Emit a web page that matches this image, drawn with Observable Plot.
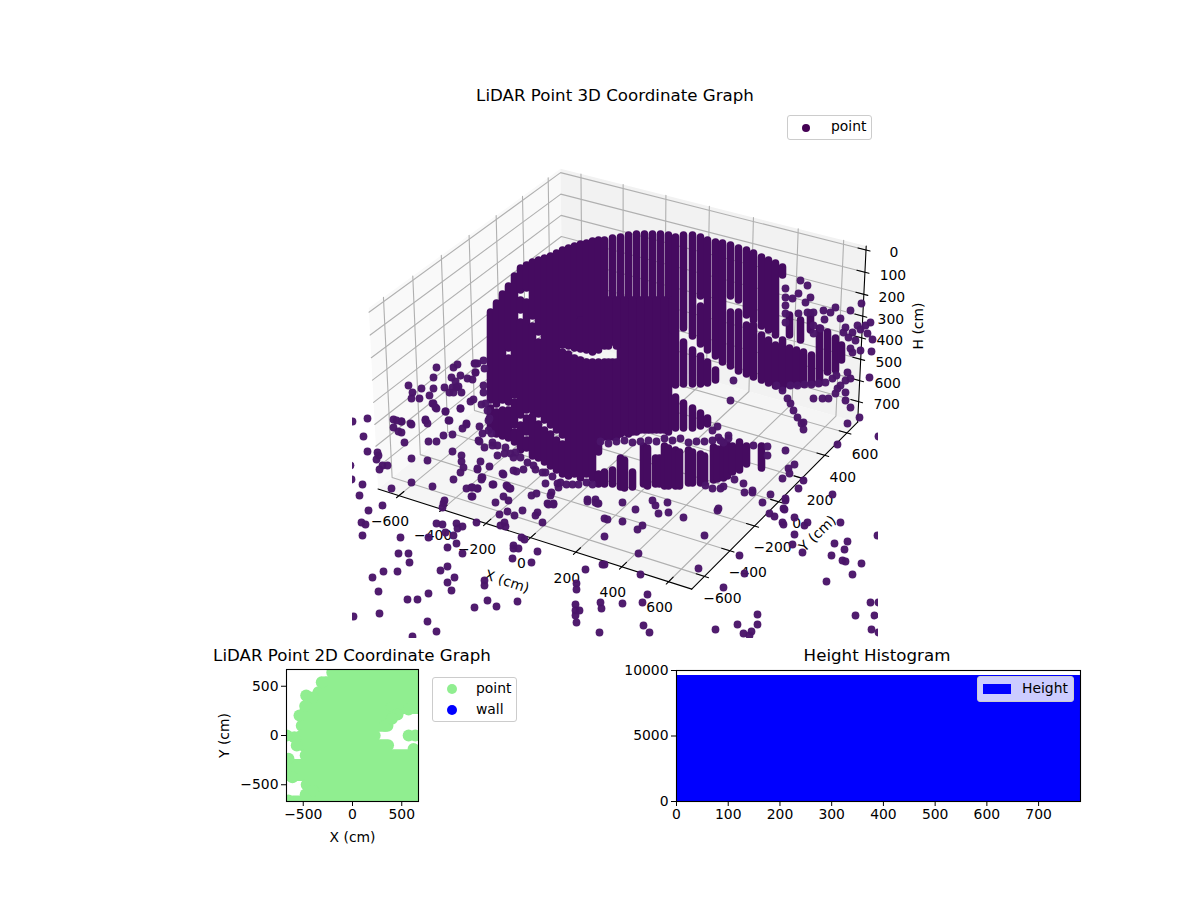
<!DOCTYPE html>
<html><head><meta charset="utf-8">
<script src="https://cdn.jsdelivr.net/npm/d3@7"></script>
<script src="https://cdn.jsdelivr.net/npm/@observablehq/plot@0.6"></script>
<style>
body{margin:0;background:#fff;font-family:"DejaVu Sans",sans-serif;color:#000}
#root{position:relative;width:1200px;height:900px;overflow:hidden}
#root>svg,#root>div{position:absolute}
.ttl{font-size:16.67px;transform:translateX(-50%);white-space:nowrap;line-height:1}
.leg{background:rgba(255,255,255,.8);border:1px solid #ccc;border-radius:3px;box-sizing:border-box;font-size:13.9px}
.leg span{position:absolute;line-height:1}
.leg i{position:absolute;display:block}
</style></head><body><div id="root"></div>
<script>
// ---- 3D axes
const xTicks3=[-600,-400,-200,0,200,400,600];
const yTicks3=[-600,-400,-200,0,200,400,600];
const hTicks3=[0,100,200,300,400,500,600,700];
const paneLimit=698, hTopLimit=-18, hBottomLimit=798;
// ---- dense LiDAR scan stacks: [u, top, bottom]
const scanColumns=[
[490,312,400],[490,408,428],[496,303,404],[496,412,434],[502,294,400],[502,410,436],[508,286,348],[508,358,402],[508,410,438],[514,276,395],[514,402,425],[514,432,442],
[520,268,290],[520,300,310],[520,322,415],[520,425,450],[526,265,288],[526,302,410],[526,418,432],[526,440,448],[532,262,316],[532,326,410],[532,416,456],
[538,260,332],[538,342,414],[538,424,458],[544,258,420],[544,430,462],[550,256,425],[550,434,466],[556,253,430],[556,440,470],
[562,250,345],[562,352,435],[562,444,474],[568,248,346],[568,354,476],[574,246,348],[574,358,474],[580,244,315],[580,320,349],[580,360,478],
[586,243,350],[586,362,474],[592,241,352],[592,362,478],[598,240,350],[598,362,452],[598,474,484],
[604,240,346],[604,362,437],[604,472,484],[612,238,342],[612,362,437],[612,470,484],[620,237,434],[620,458,487],[624,460,488],[628,235,434],[632,472,487],
[636,234,432],[644,234,430],[643,446,484],[647,448,486],[652,234,430],[655,458,484],[659,458,484],[660,234,430],[664,446,486],[668,448,486],[668,235,432],
[608,300,346],[608,362,437],[616,300,346],[616,362,437],[624,300,432],[632,300,432],[640,300,430],[648,300,430],[656,300,430],[664,300,430],[672,300,330],
[675,237,385],[675,397,428],[675,450,486],[679,452,486],[683,235,328],[683,342,384],[683,403,428],[688,450,483],[692,452,483],[692,235,336],[692,350,384],[692,408,428],
[700,237,296],[700,306,344],[700,356,384],[700,413,426],[700,454,483],[704,456,482],[707,240,350],[707,362,383],[707,418,424],[713,447,480],[717,449,479],[715,242,356],[715,370,380],
[722,243,362],[723,443,478],[727,445,476],[730,245,296],[730,312,366],[732,446,472],[738,248,300],[738,312,371],[739,442,470],[746,250,315],[746,325,374],[746,446,464],
[753,253,320],[753,325,377],[761,257,326],[761,335,380],[761,446,468],[768,260,330],[768,340,383],[775,263,335],[775,345,386],
[782,267,275],[782,340,388],[789,315,335],[789,348,385],[796,350,384],[800,320,340],[803,352,384],[810,313,330],[811,355,383],[819,328,383],[827,332,372],[835,338,370],[841,345,360]
];
// ---- single scattered returns
const scatterPoints=[
[436,367],[433,377],[408,385],[412,392],[411,398],[421,388],[419,398],[429,395],[433,388],[433,403],[436,408],[445,411],[444,387],[449,392],[453,392],[452,387],[456,387],
[451,377],[455,381],[460,375],[467,378],[472,379],[458,386],[461,392],[453,367],[457,364],[474,363],[477,363],[475,372],[484,368],[470,401],[473,399],[460,408],[481,404],[485,403],[487,410],
[448,420],[401,421],[396,420],[410,423],[425,419],[427,423],[466,423],[489,418],[479,426],[483,385],[483,392],
[352,421],[367,418],[363,436],[367,451],[377,452],[378,455],[376,459],[382,465],[379,469],[387,465],[350,465],[351,479],[362,484],[359,495],[368,510],[382,505],[361,522],[365,524],[362,535],
[391,488],[411,482],[432,486],[411,458],[427,460],[393,419],[393,427],[401,421],[411,424],[398,431],[401,432],[404,442],[425,420],[428,441],[436,441],[443,435],[452,434],[449,420],[445,411],[432,403],[435,407],
[462,428],[466,424],[460,408],[452,451],[461,455],[461,461],[480,461],[463,467],[460,472],[477,469],[489,466],[453,479],[481,477],[481,479],[493,484],[466,488],[471,487],[477,488],[471,496],[444,500],[443,503],[442,507],
[503,496],[508,500],[495,502],[507,486],[510,488],[499,514],[507,511],[514,515],[522,510],[531,495],[536,493],[537,512],[535,515],[476,522],[504,522],[500,525],[505,526],[542,522],[436,523],[442,524],[456,523],[462,526],[457,528],
[445,532],[453,535],[428,537],[400,537],[447,547],[456,543],[462,553],[398,553],[408,553],[409,562],[440,570],[447,566],[454,577],[447,582],[451,590],[383,571],[397,571],[372,577],[378,591],[407,599],[417,599],[428,593],[379,613],[353,616],[427,621],[436,631],[412,636],
[474,607],[487,600],[496,606],[517,601],[484,580],[484,585],[513,545],[513,548],[518,548],[512,558],[531,562],[537,551],[521,537],[524,539],
[488,420],[488,430],[482,433],[479,441],[484,447],[497,455],[492,442],[491,433],[478,440],[492,445],[503,474],[513,470],[516,471],[523,469],[535,469],[542,472],[545,483],[504,453],[510,453],[513,457],[520,457],[477,468],[502,473],[482,477],[492,484],[506,485],[509,488],[557,483],[558,487],[477,488],[472,487],[472,496],
[497,445],[505,447],[515,452],[527,462],[533,465],[545,472],[552,476],[560,482],[566,484],[572,484],[578,484],[586,482],[592,484],
[551,492],[550,495],[547,503],[553,503],[587,499],[595,499],[597,503],[622,502],[635,509],[652,500],[655,505],[667,502],[658,513],[668,512],[604,518],[607,519],[622,521],[637,529],[642,525],[604,536],[704,535],[638,553],[739,555],[698,568],[602,564],[604,564],[585,569],[640,574],[744,573],[576,583],[576,589],[723,587],[647,594],[600,602],[601,608],[622,603],[642,602],[575,604],[575,610],[579,610],[575,615],[576,622],[599,632],[643,625],[649,632],[715,629],[737,624],[757,614],[757,624],[751,631],[743,633],[749,635],[870,602],[878,602],[855,615],[874,615],[871,629],[878,632],
[548,504],[553,504],[587,501],[595,502],[598,503],[683,517],[718,508],[717,510],[762,502],[769,513],[774,516],[784,509],[785,500],[794,517],[782,522],[783,524],[807,522],[804,525],[840,522],[794,534],[792,544],[802,552],[834,543],[847,541],[844,549],[831,555],[842,560],[845,561],[861,563],[852,574],[826,581],[877,535],
[785,450],[794,464],[788,468],[789,473],[782,478],[803,480],[798,488],[743,483],[734,479],[744,492],[752,490],[752,492],[770,494],[785,498],[783,508],[832,494],[712,488],[720,488],[723,486],[705,485],[717,426],[728,435],[718,437],[723,442],[712,430],[837,444],[878,436],[753,445],[767,446],[767,455],
[730,400],[733,380],[787,398],[790,403],[793,410],[797,417],[803,422],[801,423],[803,429],[782,390],[776,385],[813,398],[822,398],[828,398],[837,388],[835,393],[840,385],[845,380],[850,378],[845,392],[845,400],[850,407],[859,417],[847,423],
[790,385],[797,385],[804,384],[811,384],[818,383],[825,382],[832,378],[836,375],
[785,288],[800,280],[807,285],[798,293],[810,297],[805,302],[813,312],[798,313],[785,297],[785,305],[785,313],[785,322],[792,298],[835,307],[830,312],[823,310],[824,319],[840,318],[850,310],[861,303],[845,327],[843,332],[852,332],[848,337],[857,325],[865,325],[870,322],[860,329],[867,333],[872,339],[855,340],[850,348],[860,350],[871,351],[852,352],[847,372],[869,377],[807,312],[813,325],[813,333],[820,328],
[600,441],[608,443],[616,441],[624,440],[632,442],[640,441],[648,440],[656,441],[664,438],[672,440],[680,438],[688,442],[696,441],[704,441],[712,440],[720,440],[728,438],
[475,363],[475,372],[483,360]
];
// ---- 2D panel: bands of overlapping dots [Y, fromX, toX] and single dots [X, Y]
const floorBands=[[640,-200,700],[540,-270,700],[440,-340,700],[340,-440,700],[270,-470,340],[280,400,700],[200,-490,340],[100,-510,360],[0,-510,230],[-100,-500,366],[-200,-470,700],[-300,-700,700],[-400,-700,700],[-500,-460,700],[-600,-470,700],[-670,-600,700]];
const floorDots=[[-470,407],[-538,203],[-590,-17],[-566,-102],[-668,0],[-610,-424],[-650,-237],[570,0],[637,0],[620,-136],[330,100],[-312,540],[-650,-660],[-400,-560],[457,213],[569,264],[400,170],[-400,385],[-480,300]];
// ---- histogram
const heightEdges=[0,100,200,300,400,500,600,700,781];
const heightCounts=[9600,9600,9600,9600,9600,9600,9600,9600];

// perspective view of data coordinates onto the view plane (elev 30, azim -60)
const box=[1.246,1.246,0.729];
const el=30*Math.PI/180,az=-60*Math.PI/180,dist=10;
const w=[Math.cos(el)*Math.cos(az),Math.cos(el)*Math.sin(az),Math.sin(el)];
const u=[-w[1]/Math.hypot(w[0],w[1]),w[0]/Math.hypot(w[0],w[1]),0];
const v=[w[1]*u[2]-w[2]*u[1],w[2]*u[0]-w[0]*u[2],w[0]*u[1]-w[1]*u[0]];
function project(x,y,h){
  const p=[(x+paneLimit)/(2*paneLimit)*box[0],(y+paneLimit)/(2*paneLimit)*box[1],(hBottomLimit-h)/(hBottomLimit-hTopLimit)*box[2]];
  const d=p.map((c,i)=>c-box[i]/2-dist*w[i]);
  const dot=a=>a[0]*d[0]+a[1]*d[1]+a[2]*d[2];
  const zv=dot(w);
  return [dot(u)/-zv,dot(v)/-zv];
}
const L=paneLimit,T=hTopLimit,B=hBottomLimit;
const P=(id,pts)=>pts.map(q=>{const r=project(...q);return {id,px:r[0],py:r[1]}});
const floor=P(0,[[-L,-L,B],[L,-L,B],[L,L,B],[-L,L,B]]);
const leftPane=P(0,[[-L,-L,B],[-L,L,B],[-L,L,T],[-L,-L,T]]);
const backPane=P(0,[[-L,L,B],[L,L,B],[L,L,T],[-L,L,T]]);
const gridLines=[];
xTicks3.forEach(t=>gridLines.push(...P("x"+t,[[t,-L,B],[t,L,B],[t,L,T]])));
yTicks3.forEach(t=>gridLines.push(...P("y"+t,[[L,t,B],[-L,t,B],[-L,t,T]])));
hTicks3.forEach(t=>gridLines.push(...P("h"+t,[[-L,-L,t],[-L,L,t],[L,L,t]])));
const axes=[...P("ax",[[-L,-L,B],[L,-L,B]]),...P("ay",[[L,-L,B],[L,L,B]]),...P("az",[[L,L,B],[L,L,T]])];
const tickLen=L*2/12*0.3;
const tickMarks=[];
xTicks3.forEach(t=>tickMarks.push(...P("x"+t,[[t,-L-tickLen*.5,B],[t,-L+tickLen,B]])));
yTicks3.forEach(t=>tickMarks.push(...P("y"+t,[[L+tickLen*.5,t,B],[L-tickLen,t,B]])));
hTicks3.forEach(t=>tickMarks.push(...P("h"+t,[[L+tickLen*.5,L,t],[L-tickLen,L,t]])));
const lab=(arr,f)=>arr.map(t=>{const r=project(...f(t));return {t,px:r[0],py:r[1]}});
const fmt=t=>String(t).replace("-","−");

const root=document.getElementById("root");
const FONT='"DejaVu Sans",sans-serif';
const base={margin:0,axis:null,style:{background:"transparent",fontFamily:FONT,fontSize:"13.9px",color:"#000",position:"absolute",maxWidth:"none"}};
const xy={x:"px",y:"py"};
const lblX=lab([0],t=>[t,-L,B])[0], lblY=lab([0],t=>[L,t,B])[0], lblH=lab([350],t=>[L,L,t])[0];
const frame=Plot.plot({...base,width:1200,height:660,
  x:{domain:[-0.09414,0.08926],range:[352,878]},y:{domain:[-0.09593,0.09013],range:[638,112]},
  marks:[
    Plot.line(floor,{...xy,fill:"#f5f5f5",stroke:"none"}),
    Plot.line(leftPane,{...xy,fill:"#f9f9f9",stroke:"none"}),
    Plot.line(backPane,{...xy,fill:"#f2f2f2",stroke:"none"}),
    Plot.line(gridLines,{...xy,z:"id",stroke:"#b0b0b0",strokeWidth:1.1}),
    Plot.line(axes,{...xy,z:"id",stroke:"#000",strokeWidth:1.1}),
    Plot.line(tickMarks,{...xy,z:"id",stroke:"#000",strokeWidth:1.1}),
    Plot.text(lab(xTicks3,t=>[t,-L,B]),{...xy,text:d=>fmt(d.t),dx:-9,dy:26,fill:"#000"}),
    Plot.text(lab(yTicks3,t=>[L,t,B]),{...xy,text:d=>fmt(d.t),dx:18,dy:22,fill:"#000"}),
    Plot.text(lab(hTicks3,t=>[L,L,t]),{...xy,text:d=>fmt(d.t),dx:28,dy:3,fill:"#000"}),
    Plot.text([lblX],{...xy,text:()=>"X (cm)",dx:-23.5,dy:44,rotate:18,fill:"#000"}),
    Plot.text([lblY],{...xy,text:()=>"Y (cm)",dx:39,dy:32,rotate:-44,fill:"#000"}),
    Plot.text([lblH],{...xy,text:()=>"H (cm)",dx:56.5,dy:-1,rotate:-90,fill:"#000"})
  ]});
frame.style.left="0";frame.style.top="0";root.appendChild(frame);

const cloud=Plot.plot({...base,width:526,height:526,
  x:{domain:[352,878],range:[0,526]},y:{domain:[112,638],range:[0,526]},
  marks:[
    Plot.ruleX(scanColumns,{x:d=>d[0],y1:d=>d[1],y2:d=>d[2],stroke:"#450b60",strokeWidth:7.6,strokeLinecap:"round"}),
    Plot.dot(scatterPoints,{x:d=>d[0],y:d=>d[1],r:3.9,fill:"#4a1569",fillOpacity:.97})
  ]});
cloud.style.left="352px";cloud.style.top="112px";root.appendChild(cloud);

const addDiv=(cls,css,html)=>{const e=document.createElement("div");e.className=cls;e.style.cssText=css;e.innerHTML=html;root.appendChild(e);return e};
addDiv("ttl","left:615px;top:88px","LiDAR Point 3D Coordinate Graph");
addDiv("leg","left:787px;top:115px;width:85px;height:25px",'<i style="left:14px;top:8px;width:8px;height:8px;border-radius:50%;background:#440154"></i><span style="left:43px;top:4px">point</span>');

// 2D panel
const p2=Plot.plot({...base,width:230,height:200,marginLeft:76,marginRight:22,marginTop:9,marginBottom:59,axis:undefined,
  x:{domain:[-670,670]},y:{domain:[-670,670]},
  marks:[
    Plot.ruleY(floorBands,{y:d=>d[0],x1:d=>d[1],x2:d=>d[2],stroke:"#90ee90",strokeWidth:12,strokeLinecap:"round",clip:true}),
    Plot.dot(floorDots,{x:d=>d[0],y:d=>d[1],r:6,fill:"#90ee90",clip:true}),
    Plot.frame({stroke:"#000",strokeWidth:1.1}),
    Plot.axisX({ticks:[-500,0,500],tickSize:5,tickPadding:3,label:"X (cm)",labelAnchor:"center",labelArrow:"none",labelOffset:40}),
    Plot.axisY({ticks:[-500,0,500],tickSize:5,tickPadding:3,label:"Y (cm)",labelAnchor:"center",labelArrow:"none",labelOffset:67})
  ]});
p2.style.left="210px";p2.style.top="660px";root.appendChild(p2);
addDiv("ttl","left:352px;top:648px","LiDAR Point 2D Coordinate Graph");
addDiv("leg","left:432px;top:677px;width:85px;height:45px",'<i style="left:14px;top:6px;width:10px;height:10px;border-radius:50%;background:#90ee90"></i><span style="left:43px;top:4px">point</span><i style="left:14px;top:27px;width:10px;height:10px;border-radius:50%;background:#00f"></i><span style="left:43px;top:25px">wall</span>');

// histogram
const p3=Plot.plot({...base,width:470,height:200,marginLeft:56,marginRight:10,marginTop:10,marginBottom:59,axis:undefined,
  x:{domain:[0,781]},y:{domain:[0,10000]},
  marks:[
    Plot.rectY(heightCounts,{x1:(d,i)=>heightEdges[i],x2:(d,i)=>heightEdges[i+1],y1:0,y2:d=>d,fill:"#00f",stroke:"#00f",strokeWidth:1,shapeRendering:"crispEdges"}),
    Plot.frame({stroke:"#000",strokeWidth:1.1}),
    Plot.axisX({ticks:heightEdges.slice(0,8),tickSize:5,tickPadding:3,label:null}),
    Plot.axisY({ticks:[0,5000,10000],tickSize:5,tickPadding:3,tickFormat:d3.format("d"),label:null})
  ]});
p3.style.left="620px";p3.style.top="660px";root.appendChild(p3);
addDiv("ttl","left:877px;top:648px","Height Histogram");
addDiv("leg","left:977px;top:676px;width:97px;height:26px",'<i style="left:5px;top:7px;width:28px;height:10px;background:#00f"></i><span style="left:44px;top:5px">Height</span>');
</script></body></html>
